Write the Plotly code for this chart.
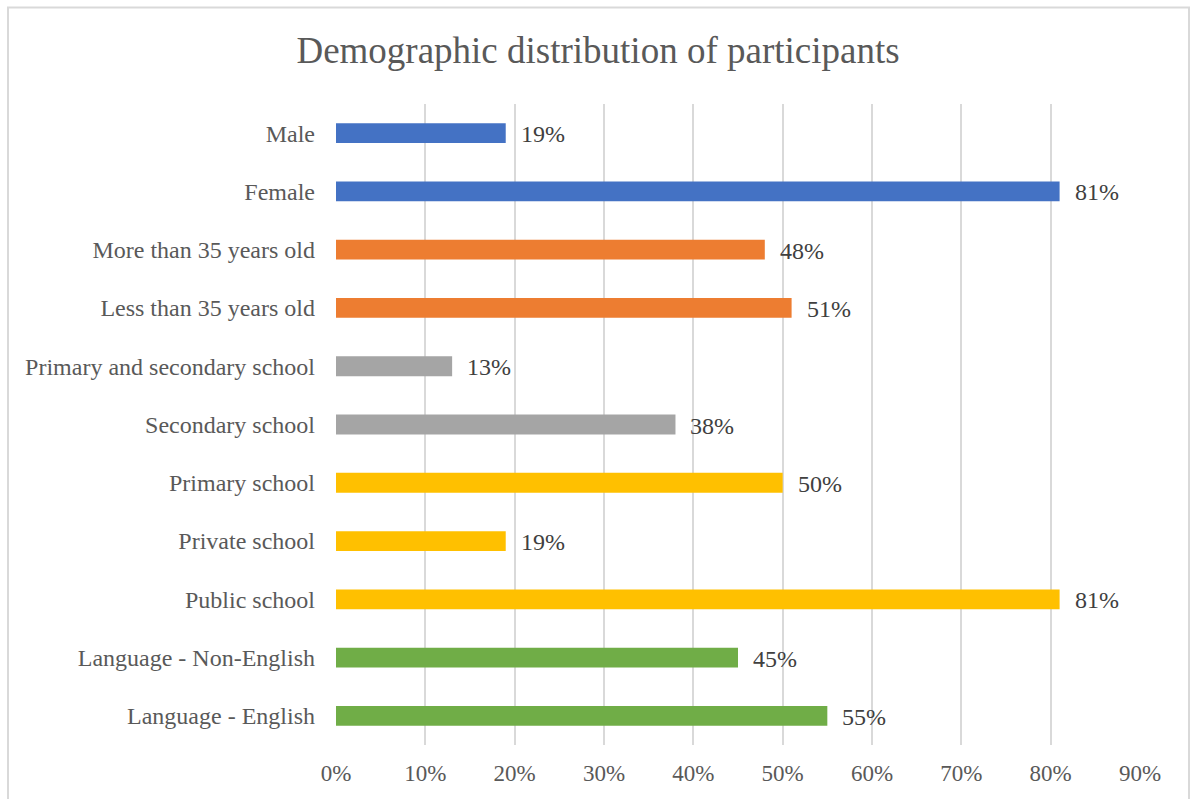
import plotly.graph_objects as go

categories = ["Male", "Female", "More than 35 years old", "Less than 35 years old",
              "Primary and secondary school", "Secondary school", "Primary school",
              "Private school", "Public school", "Language - Non-English", "Language - English"]
values = [19, 81, 48, 51, 13, 38, 50, 19, 81, 45, 55]
groups = ["Gender", "Gender", "Age", "Age", "Level", "Level", "School", "School", "School",
          "Language", "Language"]
tick_vals = [0, 10, 20, 30, 40, 50, 60, 70, 80, 90]
tick_text = ["0%", "10%", "20%", "30%", "40%", "50%", "60%", "70%", "80%", "90%"]

group_colors = {"Gender": "#4472C4", "Age": "#ED7D31", "Level": "#A5A5A5",
                "School": "#FFC000", "Language": "#70AD47"}

FONT = "Liberation Serif"

fig = go.Figure()
fig.add_trace(go.Bar(
    x=values, y=categories, orientation="h",
    marker=dict(color=[group_colors[g] for g in groups], line=dict(width=0)),
    width=0.34, hoverinfo="x+y",
))

for c, v in zip(categories, values):
    fig.add_annotation(x=v, y=c, text=f"{v}%", showarrow=False, xanchor="left",
                       xshift=13, yshift=-1,
                       font=dict(family=FONT, size=24, color="#404040"))

# chart border
W, H = 1191, 799
L, R, T, B = 336, 51, 104, 54
pw, ph = W - L - R, H - T - B
def px(x): return (x - L) / pw
def py(y): return (H - B - y) / ph
fig.add_shape(type="rect", xref="paper", yref="paper",
              x0=px(8), x1=px(1189), y0=py(805), y1=py(7.5),
              line=dict(color="#D9D9D9", width=2), fillcolor="rgba(0,0,0,0)", layer="below")

fig.update_layout(
    width=W, height=H,
    margin=dict(l=L, r=R, t=T, b=B),
    paper_bgcolor="white", plot_bgcolor="white",
    showlegend=False,
    title=dict(text="Demographic distribution of participants", x=598 / W, xref="container",
               xanchor="center", y=1 - 50 / H, yanchor="middle",
               font=dict(family=FONT, size=37, color="#595959")),
    xaxis=dict(range=[0, 90], tickvals=tick_vals, ticktext=tick_text,
               showgrid=True, gridcolor="#D9D9D9", gridwidth=1.5,
               zeroline=False, showline=False, ticks="", ticklen=0,
               ticklabelstandoff=12,
               tickfont=dict(family=FONT, size=23, color="#595959")),
    yaxis=dict(categoryorder="array", categoryarray=categories, autorange="reversed",
               showgrid=False, zeroline=False, showline=False, ticks="",
               ticklabelstandoff=20,
               tickfont=dict(family=FONT, size=24, color="#595959")),
    font=dict(family=FONT),
)

fig.write_html("out.html")
